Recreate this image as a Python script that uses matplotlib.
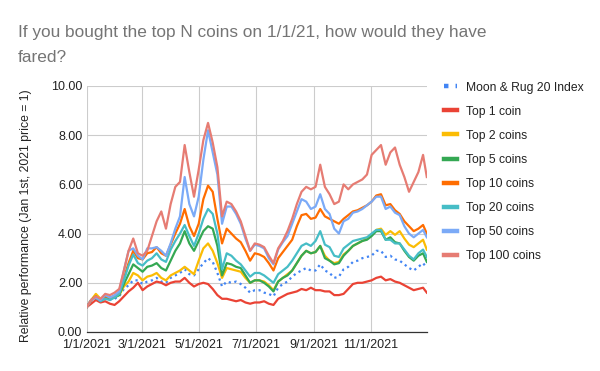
import matplotlib
matplotlib.use("Agg")
import matplotlib.pyplot as plt
from matplotlib.lines import Line2D
import pandas as pd

plt.rcParams['font.family'] = ['Liberation Sans', 'DejaVu Sans']

# ---- data (day offsets from 2021-01-01) ----
day_offsets = [0, 5, 10, 15, 20, 25, 30, 35, 40, 45, 50, 55, 60, 65, 70, 75, 80, 85, 90, 95,
               100, 105, 110, 115, 120, 125, 130, 135, 140, 145, 150, 155, 160, 165, 170, 175,
               180, 185, 190, 195, 200, 205, 210, 215, 220, 225, 230, 235, 240, 245, 250, 255,
               260, 265, 270, 275, 280, 285, 290, 295, 300, 305, 310, 315, 320, 325, 330, 335,
               340, 345, 350, 355, 360, 364]

moon_rug = [1.0, 1.25, 1.4, 1.25, 1.35, 1.3, 1.35, 1.45, 1.75, 1.9, 2.1, 2.1, 1.95, 2.05, 2.1, 2.2,
            2.05, 2.0, 2.2, 2.3, 2.4, 2.55, 2.35, 2.3, 2.55, 2.8, 3.0, 2.85, 2.4, 1.85, 2.05, 2.0,
            2.05, 1.95, 1.8, 1.6, 1.7, 1.7, 1.6, 1.55, 1.45, 1.8, 1.95, 2.05, 2.25, 2.4, 2.5, 2.6,
            2.5, 2.5, 2.75, 2.5, 2.4, 2.2, 2.25, 2.55, 2.65, 2.85, 2.9, 3.0, 3.05, 3.1, 3.3, 3.3,
            3.05, 3.1, 2.95, 2.9, 2.75, 2.6, 2.5, 2.65, 2.8, 2.6]
top1 = [1.0, 1.15, 1.3, 1.2, 1.25, 1.15, 1.1, 1.25, 1.45, 1.65, 1.8, 2.0, 1.7, 1.85, 1.95, 2.05,
        2.0, 1.9, 2.0, 2.05, 2.05, 2.2, 2.0, 1.85, 1.95, 2.0, 1.95, 1.75, 1.5, 1.35, 1.35, 1.3,
        1.25, 1.3, 1.2, 1.15, 1.2, 1.2, 1.25, 1.15, 1.1, 1.35, 1.45, 1.55, 1.6, 1.65, 1.75, 1.7,
        1.8, 1.7, 1.7, 1.65, 1.65, 1.5, 1.5, 1.55, 1.75, 1.95, 2.0, 2.0, 2.05, 2.1, 2.2, 2.25,
        2.1, 2.15, 2.05, 2.0, 1.9, 1.8, 1.7, 1.75, 1.8, 1.6]
top2 = [1.0, 1.3, 1.55, 1.35, 1.45, 1.4, 1.45, 1.5, 1.85, 2.05, 2.4, 2.3, 2.1, 2.25, 2.3, 2.4,
        2.2, 2.1, 2.3, 2.4, 2.5, 2.65, 2.5, 2.35, 2.9, 3.4, 3.6, 3.3, 2.8, 2.2, 2.6, 2.55,
        2.5, 2.45, 2.2, 2.0, 2.1, 2.1, 2.05, 1.9, 1.7, 2.05, 2.2, 2.35, 2.5, 2.8, 3.1, 3.3,
        3.2, 3.25, 3.5, 3.1, 2.9, 2.8, 2.85, 3.15, 3.3, 3.5, 3.6, 3.7, 3.8, 3.95, 4.15, 4.2,
        3.95, 4.1, 3.95, 4.1, 3.8, 3.55, 3.45, 3.6, 3.75, 3.35]
top5 = [1.0, 1.3, 1.45, 1.3, 1.4, 1.35, 1.4, 1.5, 1.95, 2.35, 2.75, 2.6, 2.45, 2.65, 2.7, 2.8,
        2.6, 2.5, 2.9, 3.3, 3.6, 4.1, 3.6, 3.3, 3.7, 4.1, 4.3, 4.2, 3.5, 2.3, 2.8, 2.75,
        2.65, 2.6, 2.3, 2.0, 2.1, 2.1, 2.0, 1.85, 1.65, 2.05, 2.2, 2.3, 2.5, 2.8, 3.1, 3.3,
        3.2, 3.25, 3.5, 3.0, 2.9, 2.75, 2.8, 3.1, 3.3, 3.5, 3.6, 3.7, 3.75, 3.9, 4.1, 4.1,
        3.75, 3.85, 3.65, 3.6, 3.3, 3.05, 2.9, 3.1, 3.2, 2.85]
top10 = [1.0, 1.3, 1.45, 1.3, 1.45, 1.4, 1.45, 1.6, 2.2, 2.8, 3.3, 3.0, 2.95, 3.2, 3.25, 3.45,
         3.2, 3.1, 3.55, 4.0, 4.4, 5.0, 4.3, 3.9, 4.4, 5.4, 5.95, 5.7, 4.6, 3.6, 4.2, 4.0,
         3.8, 3.65, 3.3, 2.9, 3.2, 3.15, 3.05, 2.8, 2.5, 3.0, 3.25, 3.5, 3.75, 4.3, 4.75, 4.8,
         4.6, 4.65, 5.0, 4.7, 4.6, 4.5, 4.4, 4.6, 4.75, 4.9, 4.95, 5.05, 5.15, 5.3, 5.55, 5.6,
         5.15, 5.2, 4.95, 4.8, 4.5, 4.3, 4.1, 4.2, 4.35, 4.0]
top20 = [1.0, 1.3, 1.4, 1.25, 1.35, 1.3, 1.4, 1.55, 2.1, 2.7, 3.15, 2.8, 2.7, 2.9, 3.0, 3.2,
         2.95, 2.85, 3.35, 3.7, 4.0, 4.35, 3.9, 3.5, 4.0, 4.6, 5.0, 4.8, 4.0, 2.55, 3.2, 3.1,
         2.9, 2.75, 2.5, 2.25, 2.4, 2.4, 2.3, 2.15, 2.0, 2.35, 2.5, 2.65, 2.9, 3.2, 3.5, 3.6,
         3.5, 3.7, 4.1, 3.55, 3.45, 3.1, 3.05, 3.4, 3.55, 3.7, 3.75, 3.8, 3.85, 4.0, 4.15, 4.15,
         3.75, 3.75, 3.6, 3.6, 3.35, 3.1, 2.95, 3.2, 3.35, 3.05]
top50 = [1.0, 1.3, 1.4, 1.3, 1.5, 1.4, 1.5, 1.65, 2.5, 3.3, 3.4, 3.1, 2.95, 3.4, 3.4, 3.45,
         3.3, 3.1, 3.6, 4.2, 4.7, 6.3, 5.2, 4.7, 5.5, 7.0, 8.2, 7.3, 6.4, 4.4, 5.1, 5.1,
         4.8, 4.4, 3.8, 3.3, 3.55, 3.5, 3.4, 3.0, 2.75, 3.35, 3.65, 3.9, 4.4, 4.9, 5.4, 5.3,
         5.0, 5.1, 5.6, 5.0, 4.8, 4.2, 4.0, 4.5, 4.6, 4.85, 4.9, 5.0, 5.15, 5.3, 5.5, 5.5,
         5.0, 5.1, 4.85, 4.75, 4.3, 4.0, 3.85, 4.0, 4.15, 3.85]
top100 = [1.0, 1.3, 1.45, 1.35, 1.55, 1.5, 1.6, 1.75, 2.5, 3.3, 3.8, 3.2, 3.1, 3.3, 3.9, 4.5,
          4.9, 4.2, 5.2, 5.9, 6.1, 7.6, 6.5, 5.5, 6.6, 7.8, 8.5, 7.7, 6.7, 4.7, 5.3, 5.2,
          4.9, 4.5, 3.9, 3.3, 3.6, 3.55, 3.45, 3.1, 2.8, 3.4, 3.7, 4.1, 4.6, 5.2, 5.7, 5.9,
          5.8, 5.9, 6.8, 5.9, 5.6, 5.2, 5.3, 6.0, 5.8, 6.0, 6.1, 6.2, 6.4, 7.2, 7.4, 7.6,
          6.8, 7.3, 7.5, 6.8, 6.3, 5.7, 6.1, 6.5, 7.2, 6.3]

series_names = ["Moon & Rug 20 Index", "Top 1 coin", "Top 2 coins", "Top 5 coins",
                "Top 10 coins", "Top 20 coins", "Top 50 coins", "Top 100 coins"]
series_values = [moon_rug, top1, top2, top5, top10, top20, top50, top100]
series_colors = ["#4285F4", "#EA4335", "#FBBC04", "#34A853", "#FF6D01", "#46BDC6",
                 "#7BAAF7", "#E67C73"]

tick_dates = ["2021-01-01", "2021-03-01", "2021-05-01", "2021-07-01", "2021-09-01", "2021-11-01"]
tick_labels = ["1/1/2021", "3/1/2021", "5/1/2021", "7/1/2021", "9/1/2021", "11/1/2021"]
y_ticks = [0, 2, 4, 6, 8, 10]

title_lines = ["If you bought the top N coins on 1/1/21, how would they have", "fared?"]
y_label = "Relative performance (Jan 1st, 2021 price = 1)"

dates = pd.Timestamp("2021-01-01") + pd.to_timedelta(day_offsets, unit="D")

W, H = 600, 371
fig = plt.figure(figsize=(W / 100, H / 100), dpi=100)
ax = fig.add_axes([86.5 / W, 1 - 332 / H, (426.8 - 86.5) / W, (332 - 86) / H])

for name, vals, col in zip(series_names, series_values, series_colors):
    if name.startswith("Moon"):
        ax.plot(dates, vals, color=col, lw=1.6, linestyle=(0, (1.0, 1.6)), zorder=2)
    else:
        ax.plot(dates, vals, color=col, lw=1.6, zorder=3, solid_joinstyle="round")

ax.set_xlim(pd.Timestamp("2021-01-01"), pd.Timestamp("2021-12-31"))
ax.set_ylim(0, 10)
ax.set_xticks(pd.to_datetime(tick_dates))
ax.set_xticklabels(tick_labels)
ax.set_yticks(y_ticks)
ax.set_yticklabels([f"{v:.2f}" for v in y_ticks])
ax.grid(True, color="#cccccc", lw=0.8, zorder=0)
ax.set_axisbelow(True)
for s in ["top", "right", "left"]:
    ax.spines[s].set_visible(False)
ax.spines["bottom"].set_color("#333333")
ax.spines["bottom"].set_linewidth(0.9)
ax.tick_params(axis="both", length=0, labelsize=9, labelcolor="#222222")
ax.tick_params(axis="y", pad=3)
ax.tick_params(axis="x", pad=5)

for i, line in enumerate(title_lines):
    fig.text(18 / W, 1 - (37.5 + 25 * i) / H, line, fontsize=12.4, color="#757575",
             ha="left", va="baseline")
fig.text(26.5 / W, 1 - 216 / H, y_label,
         rotation=90, fontsize=8.8, color="#222222", ha="center", va="center")

handles = []
for name, col in zip(series_names, series_colors):
    if name.startswith("Moon"):
        handles.append(Line2D([], [], color=col, lw=3.2, linestyle=(0, (1, 1.6))))
    else:
        handles.append(Line2D([], [], color=col, lw=3.2))
leg = fig.legend(handles, series_names, loc="upper left", bbox_to_anchor=(444 / W, 1 - 81.5 / H),
                 frameon=False, fontsize=8.7, handlelength=1.1, handletextpad=0.7,
                 labelspacing=1.0, borderpad=0, borderaxespad=0)
for t in leg.get_texts():
    t.set_color("#222222")

fig.savefig("out.png", dpi=100)
